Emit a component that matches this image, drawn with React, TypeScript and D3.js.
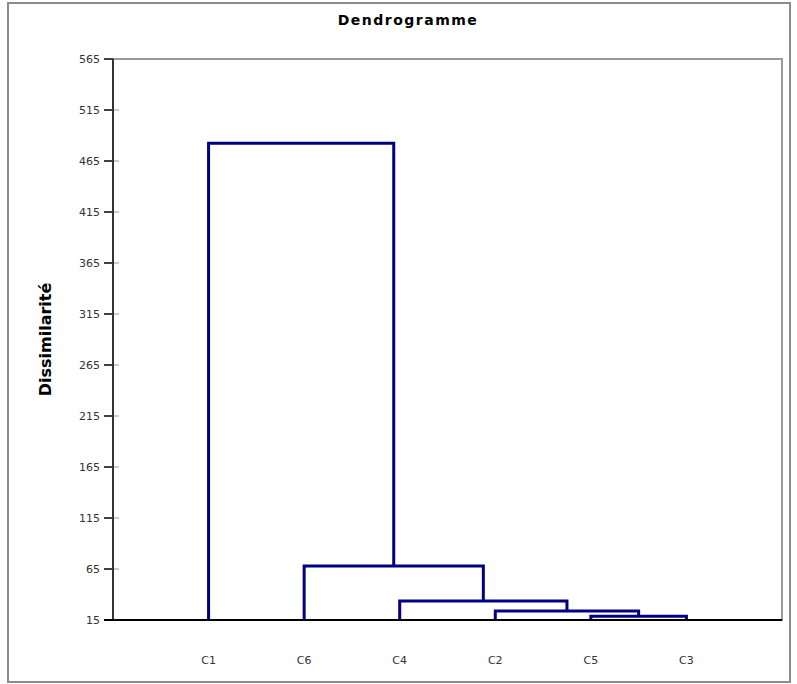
import React from 'react'
import * as d3 from 'd3'

// leaves in display order
const leaves = ['C1', 'C6', 'C4', 'C2', 'C5', 'C3']
// linkage: [left, right, height]; ids >= leaves.length are merged clusters
const merges: [number, number, number][] = [
  [4, 5, 18.6],
  [3, 6, 23.8],
  [2, 7, 33.7],
  [1, 8, 68],
  [0, 9, 482.5],
]
const yTicks = [15, 65, 115, 165, 215, 265, 315, 365, 415, 465, 515, 565]

const W = 797
const H = 684
const left = 113
const right = 782
const top = 59
const bottom = 620

function App() {
  const x = d3.scaleLinear().domain([0, leaves.length + 1]).range([left, right])
  const y = d3.scaleLinear().domain([15, 565]).range([bottom, top])

  const nodes: { x: number; h: number }[] = leaves.map((_, i) => ({ x: x(i + 1), h: 15 }))
  const links: string[] = []
  merges.forEach(([a, b, h]) => {
    const na = nodes[a]
    const nb = nodes[b]
    const p = d3.path()
    p.moveTo(na.x, y(na.h))
    p.lineTo(na.x, y(h))
    p.lineTo(nb.x, y(h))
    p.lineTo(nb.x, y(nb.h))
    links.push(p.toString())
    nodes.push({ x: (na.x + nb.x) / 2, h })
  })

  return (
    <svg width={W} height={H} style={{ position: 'absolute', left: 0, top: 0, background: '#fff' }}
      fontFamily="'DejaVu Sans', sans-serif">
      <rect x={8} y={3} width={782} height={679} fill="none" stroke="#8c8c8c" strokeWidth={2} />
      <text x={408} y={25} textAnchor="middle" fontSize={14} fontWeight="bold" letterSpacing={1.5} fill="#000">Dendrogramme</text>

      {/* plot frame */}
      <rect x={left} y={top} width={right - left} height={bottom - top} fill="none" stroke="#999" strokeWidth={2} />

      {/* y axis */}
      <g>
        {yTicks.map(t => (
          <g key={t} transform={`translate(0,${y(t)})`}>
            <line x1={left - 9} x2={left} stroke="#000" strokeWidth={1.5} />
            <line x1={left} x2={left + 6} stroke="#999" strokeWidth={1} />
            <text x={left - 13} dy="0.35em" textAnchor="end" fontSize={11} fill="#333">{t}</text>
          </g>
        ))}
        <line x1={left} x2={left} y1={top} y2={bottom} stroke="#333" strokeWidth={2} />
      </g>
      <text transform={`translate(51,${(top + bottom) / 2}) rotate(-90)`} textAnchor="middle"
        fontSize={16} fontWeight="bold" fill="#000">Dissimilarité</text>

      {/* links */}
      <g fill="none" stroke="#000080" strokeWidth={3} strokeLinejoin="miter">
        {links.map((d, i) => <path key={i} d={d} />)}
      </g>

      {/* x axis */}
      <line x1={left - 9} x2={right} y1={bottom} y2={bottom} stroke="#000" strokeWidth={2} />
      {leaves.map((l, i) => (
        <text key={l} x={x(i + 1)} y={664} textAnchor="middle" fontSize={11} fill="#333">{l}</text>
      ))}
    </svg>
  )
}

export default App
